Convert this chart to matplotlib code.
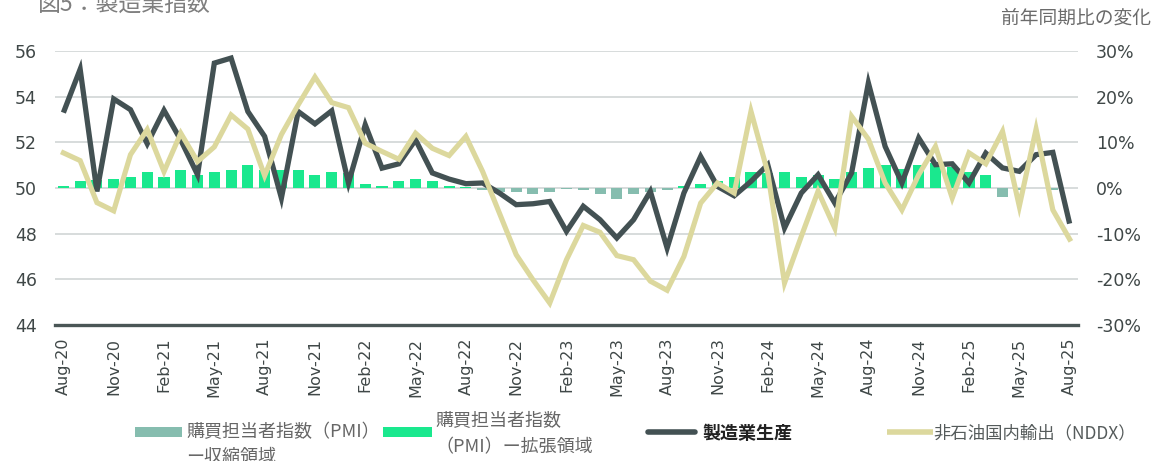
import matplotlib
matplotlib.use("Agg")
import matplotlib.pyplot as plt
from matplotlib.lines import Line2D
from matplotlib.patches import Rectangle
import numpy as np

# ---------------- data ----------------
pmi = [50.10, 50.29, 50.35, 50.39, 50.50, 50.69, 50.50, 50.79, 50.58, 50.69,
       50.79, 50.99, 50.79, 50.79, 50.79, 50.58, 50.69, 50.65, 50.17, 50.10,
       50.30, 50.40, 50.30, 50.09, 50.03, 49.91, 49.83, 49.83, 49.74, 49.83,
       49.97, 49.91, 49.74, 49.53, 49.74, 49.83, 49.91, 50.09, 50.19, 50.29,
       50.50, 50.69, 50.65, 50.69, 50.50, 50.58, 50.39, 50.69, 50.89, 50.99,
       50.85, 50.99, 51.10, 50.90, 50.69, 50.58, 49.61, 49.90, 50.00, 49.93,
       50.00]

output = [53.30, 55.20, 49.85, 53.90, 53.43, 51.94, 53.40, 52.10, 50.58, 55.47,
          55.69, 53.35, 52.26, 49.56, 53.35, 52.81, 53.38, 50.22, 52.77, 50.87,
          51.06, 52.11, 50.66, 50.39, 50.19, 50.22, 49.78, 49.27, 49.31, 49.41,
          48.10, 49.20, 48.61, 47.81, 48.61, 49.85, 47.37, 49.78, 51.38, 50.07,
          49.66, 50.29, 51.02, 48.25, 49.78, 50.58, 49.34, 50.66, 54.60, 51.82,
          50.22, 52.19, 51.02, 51.06, 50.22, 51.53, 50.88, 50.73, 51.46, 51.56,
          48.44]

nddx = [7.7, 6.0, -3.2, -5.0, 7.3, 12.8, 3.6, 12.0, 5.8, 9.0,
        16.0, 12.9, 2.7, 11.7, 18.2, 24.3, 18.7, 17.6, 9.8, 8.0,
        6.3, 12.0, 8.7, 7.1, 11.3, 3.6, -5.5, -14.6, -20.1, -25.2,
        -15.7, -8.2, -9.7, -14.8, -15.7, -20.4, -22.4, -15.0, -3.3, 1.1,
        -1.1, 16.8, 3.4, -20.8, -10.6, -0.7, -8.8, 15.7, 10.7, 1.1,
        -4.8, 2.9, 9.1, -2.2, 7.7, 5.3, 12.4, -4.0, 12.9, -4.8,
        -11.2]

tick_labels = ["Aug-20", "Nov-20", "Feb-21", "May-21", "Aug-21", "Nov-21",
               "Feb-22", "May-22", "Aug-22", "Nov-22", "Feb-23", "May-23",
               "Aug-23", "Nov-23", "Feb-24", "May-24", "Aug-24", "Nov-24",
               "Feb-25", "May-25", "Aug-25"]

left_ticks = [44, 46, 48, 50, 52, 54, 56]
right_ticks = [-30, -20, -10, 0, 10, 20, 30]

legend_pmi_down = ["購買担当者指数（PMI）", "ー収縮領域"]
legend_pmi_up = ["購買担当者指数", "（PMI）ー拡張領域"]
legend_output = "製造業生産"
legend_nddx = "非石油国内輸出（NDDX）"
title = "図5：製造業指数"
right_title = "前年同期比の変化"

# ---------------- style ----------------
W, H = 1170, 461
C_UP = "#1AE88E"
C_DOWN = "#86BDAF"
C_DARK = "#435153"
C_YEL = "#DCD89D"
C_GRID = "#CDD2D2"
C_TICK = "#3F4747"
CJK = ["Noto Sans CJK JP", "DejaVu Sans"]

fig = plt.figure(figsize=(W / 100, H / 100), dpi=100)
ax_l, ax_r, ax_t, ax_b = 55, 1078, 51, 325
ax = fig.add_axes([ax_l / W, 1 - ax_b / H, (ax_r - ax_l) / W, (ax_b - ax_t) / H])

x = np.arange(len(pmi))
pmi_arr = np.array(pmi)
dev = pmi_arr - 50
colors = [C_UP if d >= 0 else C_DOWN for d in dev]
ax.bar(x, dev, bottom=50, width=0.66, color=colors, zorder=2, linewidth=0)
ax.plot(x, output, color=C_DARK, lw=3.8, zorder=3, solid_joinstyle="miter",
        solid_capstyle="butt")

ax.set_xlim(-0.5, len(pmi) - 0.5)
ax.set_ylim(44, 56)
ax.set_yticks(left_ticks)
ax.set_yticklabels([str(v) for v in left_ticks])
ax.set_xticks(x[::3])
ax.set_xticklabels(tick_labels, rotation=90)
ax.tick_params(axis="y", length=0, pad=13, labelsize=12.5, labelcolor=C_TICK)
ax.tick_params(axis="x", length=0, pad=9, labelsize=11.5, labelcolor=C_TICK)
for s in ["top", "right", "left"]:
    ax.spines[s].set_visible(False)
ax.spines["bottom"].set_color("#4A5656")
ax.spines["bottom"].set_linewidth(2.4)
ax.spines["bottom"].set_zorder(5)
ax.grid(axis="y", color=C_GRID, lw=1.1, zorder=0)
ax.set_axisbelow(True)

ax2 = ax.twinx()
ax2.plot(x, nddx, color=C_YEL, lw=3.7, zorder=4, solid_joinstyle="miter")
ax2.set_ylim(-30, 30)
ax2.set_yticks(right_ticks)
ax2.set_yticklabels([f"{v}%" for v in right_ticks])
ax2.tick_params(axis="y", length=0, pad=13, labelsize=12.5, labelcolor=C_TICK)
for s in ["top", "right", "left", "bottom"]:
    ax2.spines[s].set_visible(False)
ax2.patch.set_visible(False)

def fx(px):
    return px / W

def fy(py):
    return 1 - py / H

# titles
fig.text(fx(38), fy(11), title, fontsize=16.5, color="#7F7F7F", family=CJK,
         va="baseline", ha="left")
fig.text(fx(1151), fy(18), right_title, fontsize=13.5, color="#6B6B6B",
         family=CJK, va="center", ha="right")

# legend
fig.add_artist(Rectangle((fx(135), fy(437)), fx(182) - fx(135), (437 - 427) / H,
                         transform=fig.transFigure, color=C_DOWN, lw=0))
fig.text(fx(186), fy(432), legend_pmi_down[0], fontsize=13, color="#666666",
         family=CJK, va="center", ha="left")
fig.text(fx(186), fy(457), legend_pmi_down[1], fontsize=13, color="#666666",
         family=CJK, va="center", ha="left")

fig.add_artist(Rectangle((fx(383), fy(437)), fx(432) - fx(383), (437 - 427) / H,
                         transform=fig.transFigure, color=C_UP, lw=0))
fig.text(fx(435), fy(421), legend_pmi_up[0], fontsize=13, color="#666666",
         family=CJK, va="center", ha="left")
fig.text(fx(435), fy(447), legend_pmi_up[1], fontsize=13, color="#666666",
         family=CJK, va="center", ha="left")

fig.add_artist(Line2D([fx(648), fx(695)], [fy(432), fy(432)],
                      transform=fig.transFigure, color=C_DARK, lw=4,
                      solid_capstyle="round"))
fig.text(fx(702), fy(433), legend_output, fontsize=13, color="#222222",
         family=CJK, va="center", ha="left", fontweight="bold")

fig.add_artist(Line2D([fx(887), fx(933)], [fy(432), fy(432)],
                      transform=fig.transFigure, color=C_YEL, lw=4,
                      solid_capstyle="butt"))
fig.text(fx(933), fy(433), legend_nddx, fontsize=12.5, color="#555B5B",
         family=CJK, va="center", ha="left")

fig.savefig("out.png", dpi=100)
